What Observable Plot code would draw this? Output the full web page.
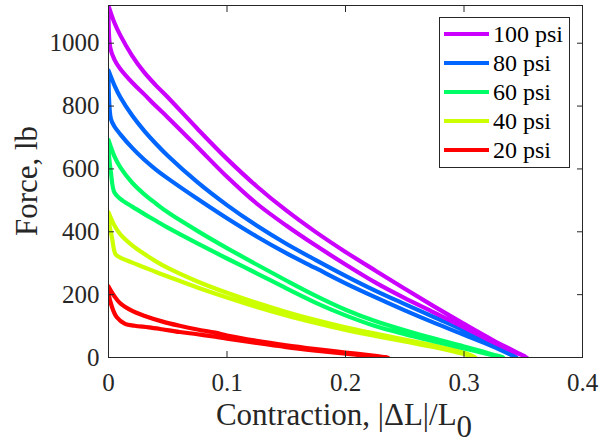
<!DOCTYPE html>
<html><head><meta charset="utf-8">
<script src="https://cdn.jsdelivr.net/npm/d3@7"></script>
<script src="https://cdn.jsdelivr.net/npm/@observablehq/plot@0.6"></script>
<style>
body{margin:0;background:#fff;}
#wrap{position:relative;width:604px;height:445px;}
#overlay{position:absolute;left:0;top:0;pointer-events:none;}
svg text{font-family:"Liberation Serif", "Times New Roman", serif;}
</style></head><body><div id="wrap"></div>
<script>
const pressures = ["100 psi","80 psi","60 psi","40 psi","20 psi"];
const colors = ["#cc00ff","#0066ff","#00ff66","#ccff00","#ff0000"];
const xTicks = [0,0.1,0.2,0.3,0.4];
const yTicks = [0,200,400,600,800,1000];

// [contraction |ΔL|/L0, force lb]; upper = loading branch, lower = return branch
const upper100 = [[0,1119],[0.005,1065],[0.01,1025],[0.02,960],[0.03,908],[0.04,866],[0.05,828],[0.075,728],[0.1,632],[0.125,545],[0.15,468],[0.175,399],[0.2,336],[0.225,277],[0.25,219],[0.275,162],[0.3,107],[0.325,54],[0.353,0]];
const lower100 = [[0.0015,985],[0.005,948],[0.01,918],[0.02,875],[0.03,838],[0.04,800],[0.05,764],[0.075,670],[0.1,575],[0.125,490],[0.15,420],[0.175,356],[0.2,296],[0.225,239],[0.25,189],[0.275,143],[0.3,96],[0.325,48],[0.353,0]];
const upper80 = [[0,913],[0.005,866],[0.01,828],[0.02,770],[0.03,722],[0.04,680],[0.05,642],[0.075,558],[0.1,485],[0.125,420],[0.15,362],[0.175,310],[0.2,260],[0.225,213],[0.25,170],[0.275,128],[0.3,86],[0.325,42],[0.345,0]];
const lower80 = [[0,880],[0.002,760],[0.005,735],[0.01,710],[0.02,667],[0.03,630],[0.04,598],[0.05,570],[0.075,505],[0.1,443],[0.125,385],[0.15,332],[0.175,284],[0.2,236],[0.225,192],[0.25,150],[0.275,110],[0.3,72],[0.325,34],[0.345,0]];
const upper60 = [[0,692],[0.005,640],[0.01,605],[0.02,556],[0.03,520],[0.04,490],[0.05,462],[0.075,403],[0.1,348],[0.125,296],[0.15,245],[0.175,196],[0.2,152],[0.225,116],[0.25,87],[0.275,60],[0.3,35],[0.333,0]];
const lower60 = [[0,665],[0.002,590],[0.005,525],[0.01,505],[0.02,480],[0.03,457],[0.04,435],[0.05,413],[0.075,363],[0.1,315],[0.125,268],[0.15,220],[0.175,174],[0.2,134],[0.225,100],[0.25,74],[0.275,51],[0.3,29],[0.333,0]];
const upper40 = [[0,462],[0.005,420],[0.01,392],[0.02,357],[0.03,330],[0.04,306],[0.05,285],[0.075,242],[0.1,206],[0.125,174],[0.15,145],[0.175,119],[0.2,96],[0.225,76],[0.25,57],[0.275,38],[0.3,15],[0.31,0]];
const lower40 = [[0,440],[0.003,380],[0.006,328],[0.01,318],[0.02,302],[0.03,287],[0.04,272],[0.05,258],[0.075,223],[0.1,191],[0.125,161],[0.15,134],[0.175,110],[0.2,88],[0.225,69],[0.25,51],[0.275,33],[0.3,11],[0.31,0]];
const upper20 = [[0,226],[0.005,195],[0.01,172],[0.02,148],[0.03,133],[0.045,115],[0.06,101],[0.075,89],[0.09,79],[0.1,70],[0.125,53],[0.15,39],[0.175,27],[0.2,16],[0.225,5],[0.236,0]];
const lower20 = [[0,207],[0.003,160],[0.007,128],[0.014,107],[0.022,101],[0.034,96],[0.045,90],[0.06,81],[0.075,74],[0.09,66],[0.1,60],[0.125,46],[0.15,33],[0.175,22],[0.2,12],[0.225,3],[0.236,0]];

const branches = [
  ["100 psi", upper100, lower100],
  ["80 psi", upper80, lower80],
  ["60 psi", upper60, lower60],
  ["40 psi", upper40, lower40],
  ["20 psi", upper20, lower20]
];

// build closed loops: along the loading branch, back along the return branch
const rows = [];
for (const [p, up, lo] of branches) {
  const loop = up.concat(lo.slice(0, -1).reverse(), [up[0]]);
  loop.forEach(([x, y], i) => rows.push({p, x, y, i}));
}
// draw 20 psi first so 100 psi lies on top
const order = pressures.slice().reverse();
rows.sort((a, b) => order.indexOf(a.p) - order.indexOf(b.p) || a.i - b.i);

const ink = "#262626";
const serif = "Liberation Serif";
const chart = Plot.plot({
  width: 604, height: 445,
  marginLeft: 108, marginRight: 22, marginTop: 5, marginBottom: 88,
  style: {fontFamily: serif, color: ink, background: "#fff"},
  x: {domain: [0, 0.4]},
  y: {domain: [0, 1120]},
  color: {domain: pressures, range: colors},
  marks: [
    Plot.line(rows, {x: "x", y: "y", z: "p", stroke: "p", strokeWidth: 4.2, curve: "catmull-rom", strokeLinejoin: "round", strokeLinecap: "round", clip: true}),
    Plot.frame({stroke: ink, strokeWidth: 1}),
    Plot.axisX({ticks: xTicks, tickSize: -6, tickPadding: 22, fontSize: 25, fontFamily: serif, label: null, tickFormat: d => String(d), stroke: ink, fill: ink}),
    Plot.axisX({anchor: "top", ticks: xTicks, tickSize: -6, label: null, tickFormat: () => "", stroke: ink}),
    Plot.axisY({ticks: yTicks, tickSize: -6, tickPadding: 15, fontSize: 25, fontFamily: serif, label: null, tickFormat: d => String(d), stroke: ink, fill: ink}),
    Plot.axisY({anchor: "right", ticks: yTicks, tickSize: -6, label: null, tickFormat: () => "", stroke: ink})
  ]
});
const wrap = document.getElementById("wrap");
wrap.appendChild(chart);

// overlay: axis titles and legend
const ov = d3.select(wrap).append("svg").attr("id", "overlay").attr("width", 604).attr("height", 445).attr("fill", ink);

ov.append("text").attr("transform", "translate(37,181) rotate(-90)").attr("text-anchor", "middle")
  .attr("font-family", serif).attr("font-size", 31).text("Force, lb");
const xl = ov.append("text").attr("x", 344).attr("y", 425).attr("text-anchor", "middle")
  .attr("font-family", serif).attr("font-size", 31);
xl.append("tspan").text("Contraction, |ΔL|/L");
xl.append("tspan").attr("dy", 12).text("0");

const lg = ov.append("g").attr("transform", "translate(439,17)");
lg.append("rect").attr("x", 0.5).attr("y", 0.5).attr("width", 130).attr("height", 150)
  .attr("fill", "#fff").attr("stroke", ink).attr("stroke-width", 1);
pressures.forEach((p, k) => {
  const cy = 17 + k * 29;
  lg.append("line").attr("x1", 5).attr("x2", 50).attr("y1", cy).attr("y2", cy)
    .attr("stroke", colors[k]).attr("stroke-width", 4.2);
  lg.append("text").attr("x", 54).attr("y", cy + 8).attr("font-family", serif)
    .attr("font-size", 24).attr("fill", "#000").text(p);
});
</script></body></html>
